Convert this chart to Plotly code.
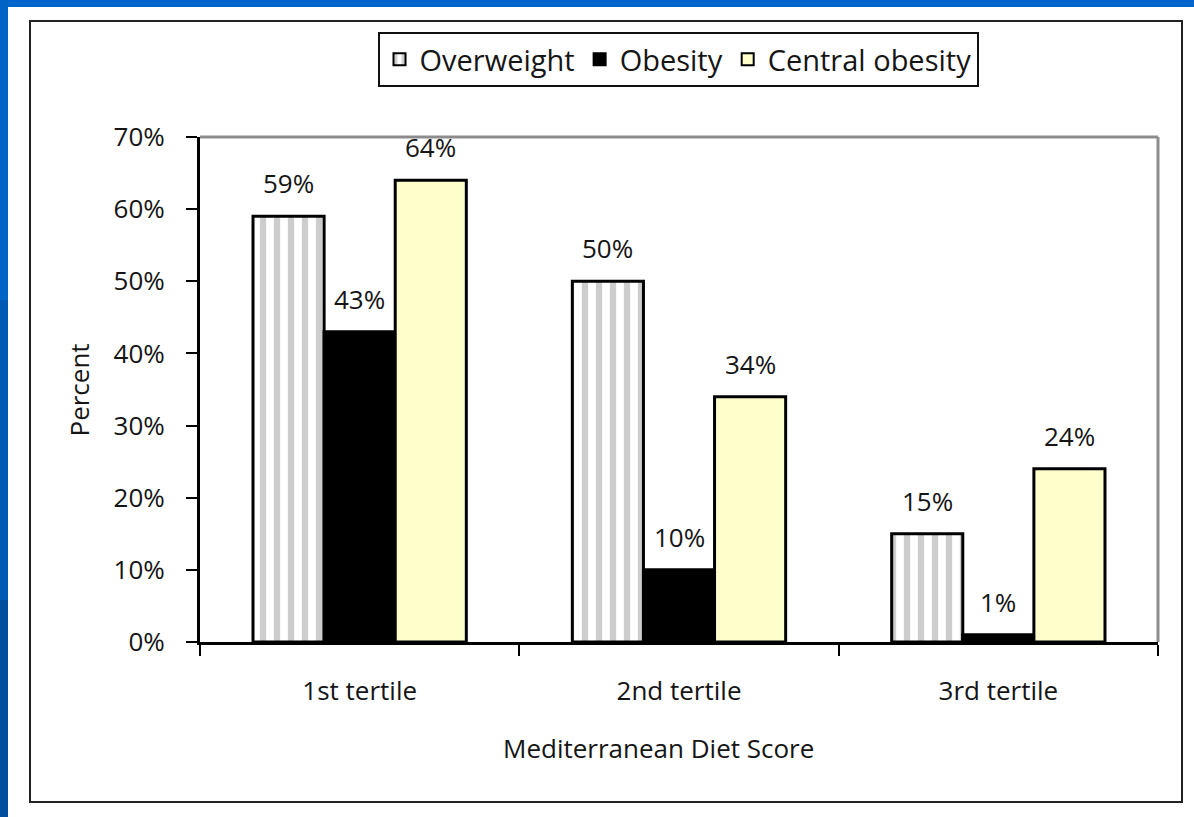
import plotly.graph_objects as go

# Share of participants by Mediterranean Diet Score tertile
tertiles = ["1st tertile", "2nd tertile", "3rd tertile"]
overweight = [59, 50, 15]
obesity = [43, 10, 1]
central_obesity = [64, 34, 24]
y_ticks = [0, 10, 20, 30, 40, 50, 60, 70]
y_tick_labels = ["0%", "10%", "20%", "30%", "40%", "50%", "60%", "70%"]

W, H = 1194, 817
L, R, T, B = 200, 36, 137, 175
FONT = "Open Sans"
TXT = "#151515"
BARGAP = 0.332


def px_x(px):
    return (px - L) / (W - L - R)


def px_y(py):
    return (H - B - py) / (H - T - B)


fig = go.Figure()

series = [
    ("Overweight", overweight, dict(color="white", line=dict(color="black", width=3),
                                    pattern=dict(shape="|", fgcolor="#9c9c9c", bgcolor="white",
                                                 size=14, solidity=0.45, fillmode="overlay"))),
    ("Obesity", obesity, dict(color="black", line=dict(color="black", width=3))),
    ("Central obesity", central_obesity, dict(color="#ffffcc", line=dict(color="black", width=3))),
]

for name, vals, marker in series:
    fig.add_trace(go.Bar(x=tertiles, y=vals, name=name, marker=marker, hoverinfo="skip"))

# value labels above each bar
bar_w = (1 - BARGAP) / len(series)
annotations = []
for k, (name, vals, _) in enumerate(series):
    offset = (k - (len(series) - 1) / 2) * bar_w
    for i, v in enumerate(vals):
        annotations.append(dict(
            x=i + offset, y=v, xref="x", yref="y", text=f"{v}%", showarrow=False,
            xanchor="center", yanchor="bottom", yshift=13,
            font=dict(family=FONT, size=26, color=TXT)))

annotations.append(dict(
    x=px_x(78), y=0.5, xref="paper", yref="paper", text="Percent", textangle=-90,
    xanchor="center", yanchor="middle", showarrow=False,
    font=dict(family=FONT, size=26, color=TXT)))
annotations.append(dict(
    x=px_x(658), y=px_y(748), xref="paper", yref="paper", text="Mediterranean Diet Score",
    xanchor="center", yanchor="middle", showarrow=False,
    font=dict(family=FONT, size=26, color=TXT)))

shapes = [
    # slide background strips
    dict(type="rect", xref="paper", yref="paper", x0=px_x(0), x1=px_x(W), y0=px_y(0), y1=px_y(7),
         fillcolor="#0066cc", line=dict(width=0), layer="below"),
    dict(type="rect", xref="paper", yref="paper", x0=px_x(0), x1=px_x(8), y0=px_y(0), y1=px_y(300),
         fillcolor="#0063c6", line=dict(width=0), layer="below"),
    dict(type="rect", xref="paper", yref="paper", x0=px_x(0), x1=px_x(8), y0=px_y(300), y1=px_y(600),
         fillcolor="#0059b3", line=dict(width=0), layer="below"),
    dict(type="rect", xref="paper", yref="paper", x0=px_x(0), x1=px_x(8), y0=px_y(600), y1=px_y(H),
         fillcolor="#004f9f", line=dict(width=0), layer="below"),
    # chart frame
    dict(type="rect", xref="paper", yref="paper", x0=px_x(30), x1=px_x(1182), y0=px_y(21), y1=px_y(802),
         line=dict(color="#222222", width=2), layer="below"),
    # plot area top and right edges
    dict(type="line", xref="paper", yref="paper", x0=0, x1=1, y0=1, y1=1,
         line=dict(color="#8c8c8c", width=3)),
    dict(type="line", xref="paper", yref="paper", x0=1, x1=1, y0=0, y1=1,
         line=dict(color="#8c8c8c", width=3)),
]

fig.update_layout(
    width=W, height=H,
    margin=dict(l=L, r=R, t=T, b=B),
    paper_bgcolor="white", plot_bgcolor="white",
    barmode="group", bargap=BARGAP, bargroupgap=0,
    font=dict(family=FONT, size=26, color=TXT),
    showlegend=True,
    legend=dict(orientation="h", x=px_x(678), xanchor="center", y=px_y(32), yanchor="top",
                bordercolor="#111111", borderwidth=2, bgcolor="white",
                font=dict(family=FONT, size=29, color=TXT),
                itemsizing="constant", traceorder="normal", itemwidth=30,
                entrywidthmode="pixels"),
    xaxis=dict(showline=True, linecolor="black", linewidth=3, ticks="outside", ticklen=11,
               tickwidth=2, tickcolor="black", tickson="boundaries", showgrid=False,
               ticklabelstandoff=24, tickfont=dict(family=FONT, size=26, color=TXT)),
    yaxis=dict(range=[0, 70], tickvals=y_ticks, ticktext=y_tick_labels, showline=True,
               linecolor="black", linewidth=3, ticks="outside", ticklen=11, tickwidth=2,
               tickcolor="black", showgrid=False, zeroline=False, ticklabelstandoff=16,
               tickfont=dict(family=FONT, size=26, color=TXT)),
    annotations=annotations,
    shapes=shapes,
)

fig.write_html("out.html")
